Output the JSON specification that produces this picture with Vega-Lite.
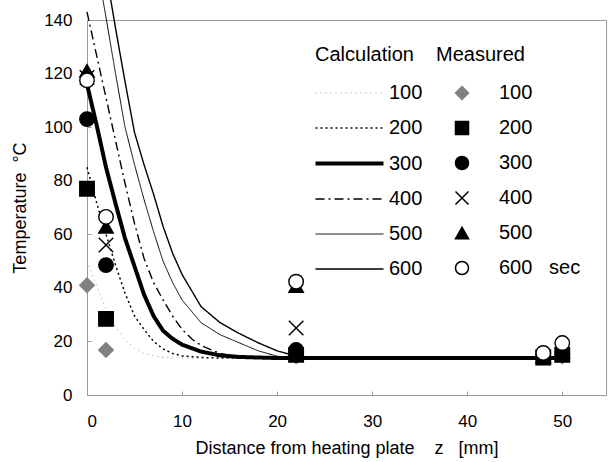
{
  "$schema": "https://vega.github.io/schema/vega-lite/v6.json",
  "width": 519,
  "height": 375,
  "autosize": "none",
  "padding": {"left": 87, "top": 20, "right": 5, "bottom": 67},
  "background": "white",
  "config": {
    "font": "Liberation Sans",
    "view": {"stroke": "#9a9a9a", "strokeWidth": 1},
    "axis": {
      "grid": false,
      "domainColor": "#9a9a9a",
      "tickColor": "#9a9a9a",
      "tickSize": -4,
      "labelColor": "black",
      "titleColor": "black",
      "labelFontSize": 17,
      "titleFontSize": 18,
      "titleFontWeight": "normal"
    },
    "legend": {
      "orient": "none",
      "padding": 0,
      "titleFontSize": 20,
      "titleFontWeight": "normal",
      "titleColor": "black",
      "labelFontSize": 20,
      "labelColor": "black",
      "rowPadding": 15,
      "titlePadding": 18
    }
  },
  "datasets": {
    "calc": [
      {"z": 0, "T": 50, "c": "100"}, {"z": 1, "T": 41, "c": "100"}, {"z": 2, "T": 32, "c": "100"}, {"z": 3, "T": 25.5, "c": "100"}, {"z": 4, "T": 20.5, "c": "100"}, {"z": 5, "T": 17.5, "c": "100"}, {"z": 6, "T": 15.5, "c": "100"}, {"z": 7, "T": 14.6, "c": "100"}, {"z": 8, "T": 14.1, "c": "100"}, {"z": 10, "T": 13.8, "c": "100"}, {"z": 50, "T": 13.8, "c": "100"},
      {"z": 0, "T": 85, "c": "200"}, {"z": 1, "T": 72, "c": "200"}, {"z": 2, "T": 60, "c": "200"}, {"z": 3, "T": 48.5, "c": "200"}, {"z": 4, "T": 38, "c": "200"}, {"z": 5, "T": 29.5, "c": "200"}, {"z": 6, "T": 24.5, "c": "200"}, {"z": 7, "T": 20, "c": "200"}, {"z": 8, "T": 17.2, "c": "200"}, {"z": 9, "T": 15.5, "c": "200"}, {"z": 10, "T": 14.6, "c": "200"}, {"z": 12, "T": 14, "c": "200"}, {"z": 14, "T": 13.8, "c": "200"}, {"z": 50, "T": 13.8, "c": "200"},
      {"z": 0, "T": 116, "c": "300"}, {"z": 1, "T": 101, "c": "300"}, {"z": 2, "T": 85, "c": "300"}, {"z": 3, "T": 71.5, "c": "300"}, {"z": 4, "T": 58.5, "c": "300"}, {"z": 5, "T": 48, "c": "300"}, {"z": 6, "T": 37.5, "c": "300"}, {"z": 7, "T": 29.5, "c": "300"}, {"z": 8, "T": 24, "c": "300"}, {"z": 9, "T": 21, "c": "300"}, {"z": 10, "T": 18.8, "c": "300"}, {"z": 12, "T": 16.2, "c": "300"}, {"z": 14, "T": 14.8, "c": "300"}, {"z": 16, "T": 14.2, "c": "300"}, {"z": 18, "T": 14, "c": "300"}, {"z": 20, "T": 13.8, "c": "300"}, {"z": 50, "T": 13.8, "c": "300"},
      {"z": 0, "T": 143, "c": "400"}, {"z": 1, "T": 127, "c": "400"}, {"z": 2, "T": 111, "c": "400"}, {"z": 3, "T": 95, "c": "400"}, {"z": 4, "T": 79, "c": "400"}, {"z": 5, "T": 64, "c": "400"}, {"z": 6, "T": 51, "c": "400"}, {"z": 7, "T": 42, "c": "400"}, {"z": 8, "T": 35.5, "c": "400"}, {"z": 9, "T": 29.5, "c": "400"}, {"z": 10, "T": 24.5, "c": "400"}, {"z": 11, "T": 21, "c": "400"}, {"z": 12, "T": 18.5, "c": "400"}, {"z": 14, "T": 15.5, "c": "400"}, {"z": 16, "T": 14.3, "c": "400"}, {"z": 18, "T": 14, "c": "400"}, {"z": 20, "T": 13.8, "c": "400"}, {"z": 50, "T": 13.8, "c": "400"},
      {"z": 0, "T": 180, "c": "500"}, {"z": 1, "T": 161, "c": "500"}, {"z": 2, "T": 141, "c": "500"}, {"z": 3, "T": 120, "c": "500"}, {"z": 4, "T": 100, "c": "500"}, {"z": 5, "T": 86, "c": "500"}, {"z": 6, "T": 73, "c": "500"}, {"z": 7, "T": 61, "c": "500"}, {"z": 8, "T": 50, "c": "500"}, {"z": 9, "T": 42, "c": "500"}, {"z": 10, "T": 35.5, "c": "500"}, {"z": 12, "T": 27, "c": "500"}, {"z": 14, "T": 22.5, "c": "500"}, {"z": 16, "T": 19.5, "c": "500"}, {"z": 18, "T": 16.5, "c": "500"}, {"z": 20, "T": 14.5, "c": "500"}, {"z": 22, "T": 13.8, "c": "500"}, {"z": 50, "T": 13.8, "c": "500"},
      {"z": 0, "T": 200, "c": "600"}, {"z": 1, "T": 180, "c": "600"}, {"z": 2, "T": 158, "c": "600"}, {"z": 3, "T": 137, "c": "600"}, {"z": 4, "T": 117, "c": "600"}, {"z": 5, "T": 98, "c": "600"}, {"z": 6, "T": 86, "c": "600"}, {"z": 7, "T": 75, "c": "600"}, {"z": 8, "T": 63, "c": "600"}, {"z": 9, "T": 53, "c": "600"}, {"z": 10, "T": 45, "c": "600"}, {"z": 12, "T": 33, "c": "600"}, {"z": 14, "T": 27, "c": "600"}, {"z": 16, "T": 23, "c": "600"}, {"z": 18, "T": 19.5, "c": "600"}, {"z": 20, "T": 16.5, "c": "600"}, {"z": 22, "T": 14.5, "c": "600"}, {"z": 24, "T": 13.8, "c": "600"}, {"z": 50, "T": 13.8, "c": "600"}
    ],
    "meas": [
      {"z": 0, "T": 41, "s": 100}, {"z": 2, "T": 16.8, "s": 100}, {"z": 22, "T": 14.5, "s": 100}, {"z": 48, "T": 14, "s": 100}, {"z": 50, "T": 14.5, "s": 100},
      {"z": 0, "T": 77, "s": 200}, {"z": 2, "T": 28.4, "s": 200}, {"z": 22, "T": 15, "s": 200}, {"z": 48, "T": 14, "s": 200}, {"z": 50, "T": 15, "s": 200},
      {"z": 0, "T": 103, "s": 300}, {"z": 2, "T": 48.5, "s": 300}, {"z": 22, "T": 16.8, "s": 300}, {"z": 48, "T": 14.5, "s": 300}, {"z": 50, "T": 15.5, "s": 300},
      {"z": 0, "T": 118.5, "s": 400}, {"z": 2, "T": 56, "s": 400}, {"z": 22, "T": 25, "s": 400}, {"z": 48, "T": 14, "s": 400}, {"z": 50, "T": 15, "s": 400},
      {"z": 0, "T": 121, "s": 500}, {"z": 2, "T": 62.8, "s": 500}, {"z": 22, "T": 40.7, "s": 500}, {"z": 48, "T": 14.5, "s": 500}, {"z": 50, "T": 16, "s": 500},
      {"z": 0, "T": 117.5, "s": 600}, {"z": 2, "T": 66.5, "s": 600}, {"z": 22, "T": 42.3, "s": 600}, {"z": 48, "T": 15.7, "s": 600}, {"z": 50, "T": 19.4, "s": 600}
    ]
  },
  "encoding": {
    "x": {
      "field": "z", "type": "quantitative",
      "scale": {"domain": [0, 54.6], "nice": false, "zero": false},
      "axis": {"values": [0, 10, 20, 30, 40, 50], "labelPadding": 22, "titlePadding": 10, "title": "Distance from heating plate\u00a0\u00a0\u00a0\u00a0z\u00a0\u00a0\u00a0[mm]"}
    },
    "y": {
      "field": "T", "type": "quantitative",
      "scale": {"domain": [0, 140], "nice": false},
      "axis": {"values": [0, 20, 40, 60, 80, 100, 120, 140], "labelPadding": 19, "titlePadding": 14, "title": "Temperature\u00a0\u00a0°C"}
    }
  },
  "layer": [
    {
      "data": {"name": "calc"},
      "mark": {"type": "line", "clip": false},
      "encoding": {
        "detail": {"field": "c"},
        "color": {
          "field": "c", "type": "ordinal",
          "scale": {"type": "ordinal", "domain": ["100", "200", "300", "400", "500", "600"], "range": ["#9a9a9a", "black", "black", "black", "black", "black"]},
          "legend": {"title": "Calculation", "legendX": 228, "legendY": 25, "symbolType": "M-4,0H4", "symbolSize": 289, "symbolOffset": 24, "labelOffset": 29, "columns": 1}
        },
        "strokeDash": {
          "field": "c", "type": "ordinal",
          "scale": {"type": "ordinal", "domain": ["100", "200", "300", "400", "500", "600"], "range": [[1, 4], [2, 3], [1, 0], [9, 4, 2, 4], [1, 0], [1, 0]]},
          "legend": {"title": "Calculation", "legendX": 228, "legendY": 25, "symbolType": "M-4,0H4", "symbolSize": 289, "symbolOffset": 24, "labelOffset": 29, "columns": 1}
        },
        "strokeWidth": {
          "field": "c", "type": "ordinal",
          "scale": {"type": "ordinal", "domain": ["100", "200", "300", "400", "500", "600"], "range": [1, 1.5, 4, 1.4, 1, 1.4]},
          "legend": {"title": "Calculation", "legendX": 228, "legendY": 25, "symbolType": "M-4,0H4", "symbolSize": 289, "symbolOffset": 24, "labelOffset": 29, "columns": 1}
        }
      }
    },
    {
      "data": {"name": "meas"},
      "mark": {"type": "point", "size": 210, "strokeWidth": 1.4, "opacity": 1},
      "encoding": {
        "shape": {
          "field": "s", "type": "ordinal",
          "scale": {"domain": [100, 200, 300, 400, 500, 600], "range": ["diamond", "square", "circle", "M-1,-1L1,1M1,-1L-1,1", "triangle-up", "circle"]},
          "legend": {"title": "Measured", "legendX": 349, "legendY": 25, "symbolSize": 170, "symbolOffset": 16, "labelOffset": 27, "columns": 1, "labelExpr": "datum.label == '600' ? '600\u00a0\u00a0\u00a0sec' : datum.label"}
        },
        "fill": {
          "field": "s", "type": "ordinal",
          "scale": {"type": "ordinal", "domain": [100, 200, 300, 400, 500, 600], "range": ["#808080", "black", "black", "white", "black", "white"]},
          "legend": {"title": "Measured", "legendX": 349, "legendY": 25, "symbolSize": 170, "symbolOffset": 16, "labelOffset": 27, "columns": 1, "labelExpr": "datum.label == '600' ? '600\u00a0\u00a0\u00a0sec' : datum.label"}
        },
        "stroke": {
          "field": "s", "type": "ordinal",
          "scale": {"type": "ordinal", "domain": [100, 200, 300, 400, 500, 600], "range": ["#808080", "black", "black", "black", "black", "black"]},
          "legend": {"title": "Measured", "legendX": 349, "legendY": 25, "symbolSize": 170, "symbolOffset": 16, "labelOffset": 27, "columns": 1, "labelExpr": "datum.label == '600' ? '600\u00a0\u00a0\u00a0sec' : datum.label"}
        }
      }
    }
  ]
}
